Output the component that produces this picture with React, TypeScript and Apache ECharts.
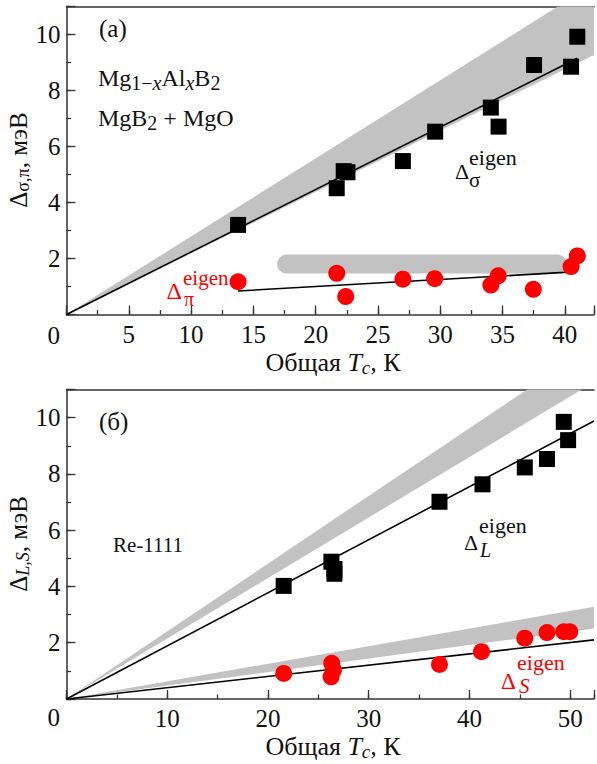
import React, { useEffect, useRef } from 'react';
import * as echarts from 'echarts';

const FONT = '"Liberation Serif", "Times New Roman", serif';
const RED = '#ff0000';
const GRAY = '#c2c2c2';

// ---- Panel (a): MgB2-type ----
const xMaxA = 42.34;
const yMaxA = 11;
const sigmaGaps: number[][] = [
  [13.77, 3.2], [21.69, 4.51], [22.25, 5.12], [22.55, 5.08], [27.0, 5.48], [29.59, 6.53],
  [34.06, 7.39], [34.68, 6.71], [37.53, 8.91], [40.5, 8.85], [41.0, 9.92],
];
const piGaps: number[][] = [
  [13.77, 1.17], [21.69, 1.47], [22.41, 0.64], [27.0, 1.26], [29.55, 1.28], [34.06, 1.05],
  [34.65, 1.38], [37.47, 0.9], [40.5, 1.71], [41.0, 2.09],
];
const sigmaFit: number[][] = [[0, 0], [41, 9.15]];
const piFit: number[][] = [[13.77, 0.84], [41, 1.53]];
const sigmaBand: number[][] = [[0, 0], [42.34, 9.27], [42.34, 11.81]];
const piBand: number[][] = [[17.66, 1.8], [39.4, 1.8]];

// ---- Panel (б): Re-1111 ----
const xMaxB = 52.37;
const yMaxB = 11;
const largeGaps: number[][] = [
  [21.56, 4.02], [26.3, 4.88], [26.6, 4.62], [26.6, 4.45], [37.03, 7.01], [41.3, 7.63],
  [45.5, 8.23], [47.7, 8.53], [49.37, 9.85], [49.8, 9.2],
];
const smallGaps: number[][] = [
  [21.56, 0.91], [26.33, 1.27], [26.5, 1.03], [26.27, 0.79], [37.03, 1.23], [41.2, 1.68],
  [45.5, 2.16], [47.7, 2.36], [49.37, 2.39], [49.96, 2.39],
];
const largeFit: number[][] = [[0, 0], [52.37, 9.88]];
const smallFit: number[][] = [[0, 0], [52.37, 2.1]];
const largeBand: number[][] = [[0, 0], [52.37, 11.26], [52.37, 12.6]];
const smallBand: number[][] = [[0, 0], [52.37, 2.51], [52.37, 3.28]];

const xStepA = 5, xMinorA = 2.5;
const xStepB = 10, xMinorB = 5;
const yStep = 2, yMinor = 1;

function majorX(max: number, step: number, grid: number) {
  return {
    type: 'value', gridIndex: grid, position: 'bottom', min: 0, max, interval: step,
    axisLine: { show: true, lineStyle: { color: '#333', width: 1.5 } },
    axisTick: { show: true, inside: true, length: 9, lineStyle: { color: '#333', width: 1.3 } },
    axisLabel: {
      show: true, margin: 7, color: '#111', fontSize: 25, fontFamily: FONT,
      formatter: (v: number) => (v === 0 || Math.abs(v % step) > 1e-6 ? '' : String(v)),
    },
    splitLine: { show: false },
  };
}
function minorX(max: number, step: number, grid: number) {
  return {
    type: 'value', gridIndex: grid, position: 'bottom', min: 0, max, interval: step,
    axisLine: { show: false },
    axisTick: { show: true, inside: true, length: 4.5, lineStyle: { color: '#333', width: 1.3 } },
    axisLabel: { show: false },
    splitLine: { show: false },
  };
}
function borderX(max: number, grid: number) {
  return {
    type: 'value', gridIndex: grid, position: 'top', min: 0, max,
    axisLine: { show: true, lineStyle: { color: '#333', width: 1.5 } },
    axisTick: { show: false }, axisLabel: { show: false }, splitLine: { show: false },
  };
}
function majorY(max: number, grid: number) {
  return {
    type: 'value', gridIndex: grid, position: 'left', min: 0, max, interval: yStep,
    axisLine: { show: true, lineStyle: { color: '#333', width: 1.5 } },
    axisTick: { show: true, inside: true, length: 9, lineStyle: { color: '#333', width: 1.3 } },
    axisLabel: {
      show: true, margin: 6, color: '#111', fontSize: 25, fontFamily: FONT,
      formatter: (v: number) => (v === 0 || Math.abs(v % yStep) > 1e-6 ? '' : String(v)),
    },
    splitLine: { show: false },
  };
}
function minorY(max: number, grid: number) {
  return {
    type: 'value', gridIndex: grid, position: 'left', min: 0, max, interval: yMinor,
    axisLine: { show: false },
    axisTick: { show: true, inside: true, length: 4.5, lineStyle: { color: '#333', width: 1.3 } },
    axisLabel: { show: false }, splitLine: { show: false },
  };
}

function band(poly: number[][], xi: number, yi: number) {
  return {
    type: 'custom', xAxisIndex: xi, yAxisIndex: yi, clip: true, z: 1, silent: true,
    data: [poly[0]],
    renderItem: (_p: any, api: any) => ({
      type: 'polygon',
      shape: { points: poly.map((pt) => api.coord(pt)) },
      style: { fill: GRAY, stroke: null },
    }),
  };
}
function fit(data: number[][], xi: number, yi: number) {
  return {
    type: 'line', xAxisIndex: xi, yAxisIndex: yi, data, symbol: 'none', z: 2, silent: true,
    lineStyle: { color: '#000', width: 1.6 },
  };
}
function pts(data: number[][], xi: number, yi: number, square: boolean) {
  return {
    type: 'scatter', xAxisIndex: xi, yAxisIndex: yi, data, z: 3, silent: true,
    symbol: square ? 'rect' : 'circle', symbolSize: square ? 16 : 17,
    itemStyle: { color: square ? '#000' : RED, opacity: 1 },
  };
}

function txt(x: number, y: number, text: string, size: number, opts: any = {}) {
  return {
    type: 'text', x, y, rotation: opts.rotation || 0, z: 10,
    style: {
      text, fill: opts.color || '#111',
      font: `${opts.italic ? 'italic ' : ''}${size}px ${FONT}`,
      align: opts.align || 'left', verticalAlign: 'middle', rich: opts.rich,
    },
  };
}

const subRich = (size: number, italic = false) => ({
  fontSize: size, fontFamily: FONT, fontStyle: italic ? 'italic' : 'normal', padding: [10, 0, 0, 0],
});
const mainRich = (size: number, italic = false) => ({
  fontSize: size, fontFamily: FONT, fontStyle: italic ? 'italic' : 'normal',
});

export default function App() {
  const ref = useRef<HTMLDivElement>(null);
  useEffect(() => {
    if (!ref.current) return;
    const chart = echarts.init(ref.current, undefined, { renderer: 'svg' });
    const option: any = {
      animation: false,
      backgroundColor: '#fff',
      grid: [
        { left: 66.5, right: 0, top: 6.5, height: 308 },
        { left: 66.5, right: 0, top: 389.5, height: 309.5 },
      ],
      xAxis: [
        majorX(xMaxA, xStepA, 0), minorX(xMaxA, xMinorA, 0), borderX(xMaxA, 0),
        majorX(xMaxB, xStepB, 1), minorX(xMaxB, xMinorB, 1), borderX(xMaxB, 1),
      ],
      yAxis: [majorY(yMaxA, 0), minorY(yMaxA, 0), majorY(yMaxB, 1), minorY(yMaxB, 1)],
      series: [
        band(sigmaBand, 0, 0),
        {
          type: 'line', xAxisIndex: 0, yAxisIndex: 0, data: piBand, symbol: 'none', z: 1, silent: true,
          lineStyle: { color: GRAY, width: 19, cap: 'round' },
        },
        fit(sigmaFit, 0, 0),
        fit(piFit, 0, 0),
        pts(sigmaGaps, 0, 0, true),
        pts(piGaps, 0, 0, false),
        band(largeBand, 3, 2),
        band(smallBand, 3, 2),
        fit(largeFit, 3, 2),
        fit(smallFit, 3, 2),
        pts(largeGaps, 3, 2, true),
        pts(smallGaps, 3, 2, false),
      ],
      graphic: [
        txt(53.8, 335, '0', 25, { align: 'center' }),
        txt(53.8, 717, '0', 25, { align: 'center' }),
        // panel (a)
        txt(99, 28, '(a)', 25),
        txt(98, 78, '{n|Mg}{s|1\u2212}{si|x}{n|Al}{si|x}{n|B}{s|2}', 24, {
          rich: { n: mainRich(24), s: subRich(20), si: subRich(20, true) },
        }),
        txt(98, 118, '{n|MgB}{s|2}{n| + MgO}', 24, { rich: { n: mainRich(24), s: subRich(20) } }),
        txt(455, 171, '\u0394', 22),
        txt(469, 157, 'eigen', 22),
        txt(469, 180, '\u03c3', 21),
        txt(166.5, 290.5, '\u0394', 24, { color: RED }),
        txt(183, 277.5, 'eigen', 21, { color: RED }),
        txt(184, 298.5, '\u03c0', 20, { color: RED }),
        txt(333, 362, '{n|\u041e\u0431\u0449\u0430\u044f }{t|T}{c|c}{n|, \u041a}', 26, {
          align: 'center', rich: { n: mainRich(26), t: mainRich(26, true), c: subRich(19, true) },
        }),
        txt(18, 160, '{n|\u0394}{s|\u03c3,\u03c0}{n|, \u043c\u044d\u0412}', 25, {
          align: 'center', rotation: Math.PI / 2,
          rich: { n: mainRich(25), s: subRich(18) },
        }),
        // panel (б)
        txt(99, 421.5, '(\u0431)', 25),
        txt(113, 545, 'Re-1111', 21),
        txt(464, 542, '\u0394', 22),
        txt(479, 525, 'eigen', 22),
        txt(480, 550, 'L', 20, { italic: true }),
        txt(501, 681, '\u0394', 23, { color: RED }),
        txt(517, 662, 'eigen', 22, { color: RED }),
        txt(519, 686, 'S', 21, { color: RED, italic: true }),
        txt(333, 746, '{n|\u041e\u0431\u0449\u0430\u044f }{t|T}{c|c}{n|, \u041a}', 26, {
          align: 'center', rich: { n: mainRich(26), t: mainRich(26, true), c: subRich(19, true) },
        }),
        txt(18, 544, '{n|\u0394}{s|L,S}{n|, \u043c\u044d\u0412}', 25, {
          align: 'center', rotation: Math.PI / 2,
          rich: { n: mainRich(25), s: subRich(18, true) },
        }),
      ],
    };
    chart.setOption(option);
    return () => chart.dispose();
  }, []);
  return (
    <div
      ref={ref}
      style={{ position: 'absolute', left: 0, top: 0, width: 597, height: 764, background: '#fff' }}
    />
  );
}
